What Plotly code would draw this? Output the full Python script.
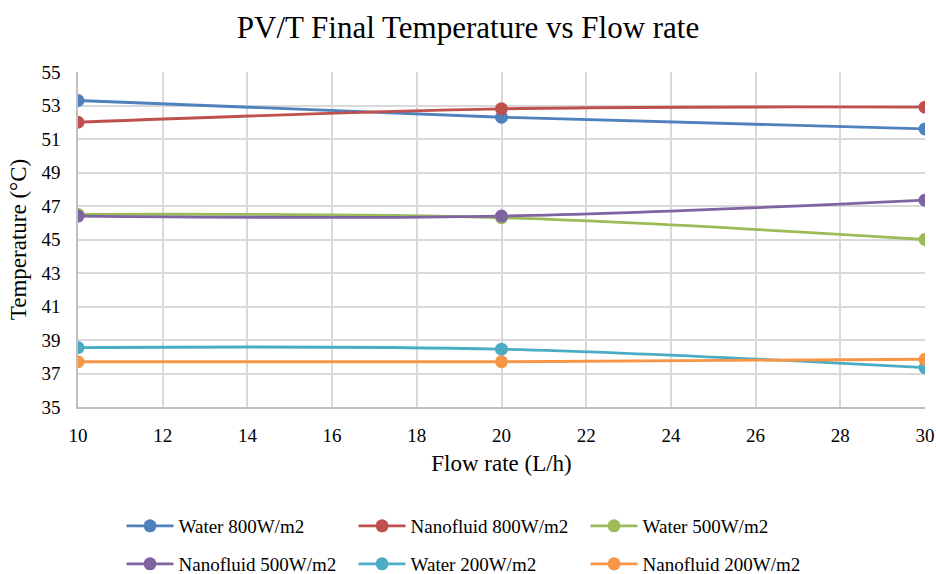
import plotly.graph_objects as go

flow_rate = [10, 20, 30]
series_names = ["Water 800W/m2", "Nanofluid 800W/m2", "Water 500W/m2",
                "Nanofluid 500W/m2", "Water 200W/m2", "Nanofluid 200W/m2"]
water_800 = [53.3, 52.3, 51.6]
nano_800 = [52.0, 52.8, 52.9]
water_500 = [46.5, 46.3, 45.0]
nano_500 = [46.4, 46.4, 47.35]
water_200 = [38.55, 38.45, 37.35]
nano_200 = [37.7, 37.7, 37.85]
colors = ["#4F81BD", "#C0504D", "#9BBB59", "#8064A2", "#4BACC6", "#F79646"]

all_series = [water_800, nano_800, water_500, nano_500, water_200, nano_200]

fig = go.Figure()
for i, (name, vals, c) in enumerate(zip(series_names, all_series, colors)):
    fig.add_trace(go.Scatter(
        x=flow_rate, y=vals, name=name, mode="lines+markers",
        line=dict(color=c, width=2.8, shape="spline", smoothing=1.0),
        marker=dict(color=c, size=13),
        legend="legend" if i < 3 else "legend2",
    ))

font_family = "Liberation Serif, Times New Roman, serif"
leg_common = dict(orientation="h", xanchor="left", yanchor="middle",
                  yref="container",
                  entrywidth=170, entrywidthmode="pixels", itemwidth=47,
                  font=dict(family=font_family, size=19, color="black"),
                  bgcolor="rgba(0,0,0,0)")
fig.update_layout(
    width=936, height=574,
    paper_bgcolor="white", plot_bgcolor="white",
    margin=dict(l=78, r=11, t=72, b=167),
    font=dict(family=font_family, size=18, color="black"),
    title=dict(text="PV/T Final Temperature vs Flow rate", x=0.5, xanchor="center",
               y=0.953, yanchor="middle",
               font=dict(family=font_family, size=31, color="black")),
    showlegend=True,
    legend=dict(x=0.0514, y=1 - 526 / 574, **leg_common),
    legend2=dict(x=0.0514, y=1 - 564 / 574, **leg_common),
)
fig.update_xaxes(range=[10, 30], dtick=2, tick0=10, showgrid=True, gridcolor="#D9D9D9",
                 gridwidth=1.5, showline=True, linecolor="#BFBFBF", linewidth=1.5,
                 zeroline=False, ticks="outside", ticklen=10, tickcolor="rgba(0,0,0,0)",
                 automargin=False,
                 tickfont=dict(family=font_family, size=19, color="black"),
                 title=dict(text="Flow rate (L/h)", standoff=10,
                            font=dict(family=font_family, size=23, color="black")))
fig.update_yaxes(range=[35, 55], dtick=2, tick0=35, showgrid=True, gridcolor="#D9D9D9",
                 gridwidth=1.5, showline=True, linecolor="#BFBFBF", linewidth=1.5,
                 zeroline=False, ticks="outside", ticklen=12, tickcolor="rgba(0,0,0,0)",
                 automargin=False,
                 tickfont=dict(family=font_family, size=19, color="black"),
                 title=dict(text="Temperature (°C)", standoff=8,
                            font=dict(family=font_family, size=23, color="black")))

fig.write_html("out.html")
